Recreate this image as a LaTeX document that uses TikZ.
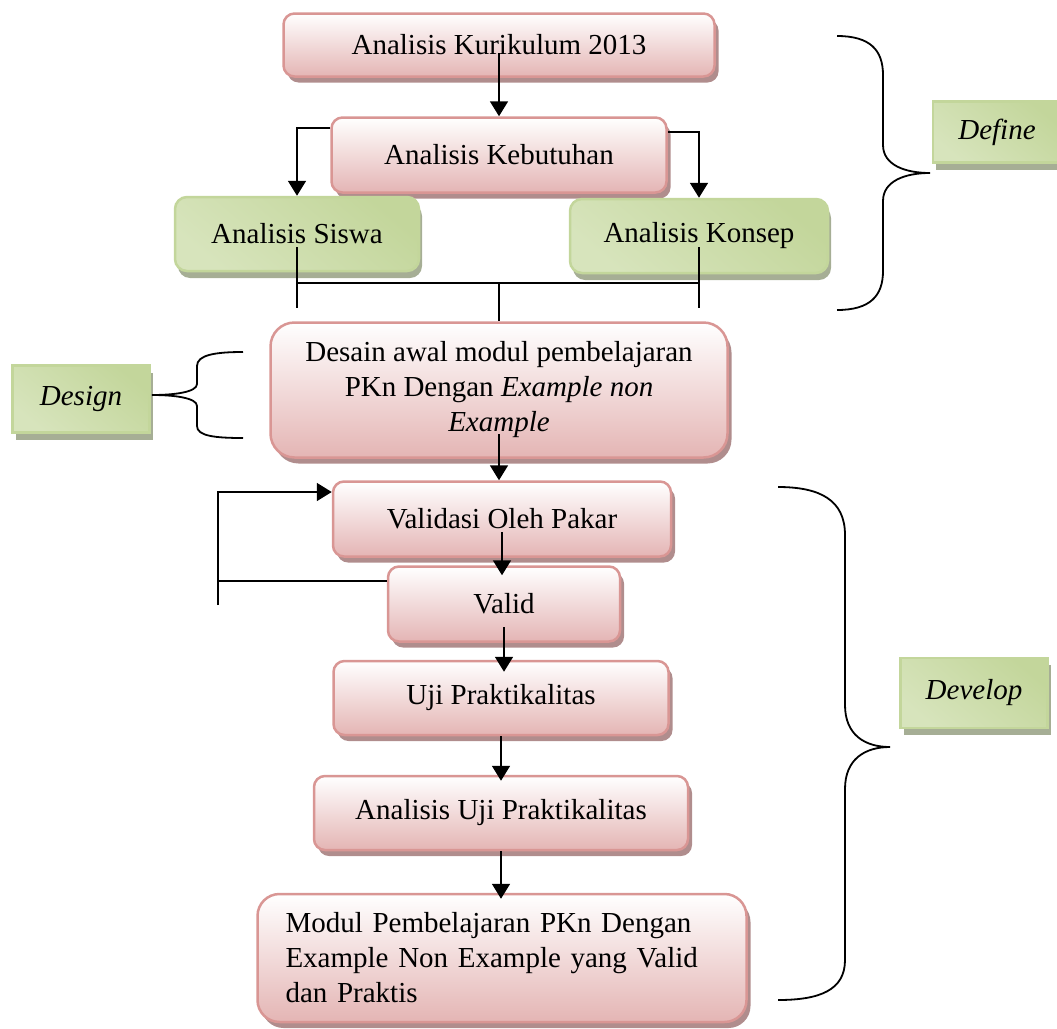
\documentclass[tikz,border=0pt]{standalone}
\usepackage{fontspec}
\setmainfont{Liberation Serif}
\usetikzlibrary{arrows.meta,shadows,calc}
\definecolor{pinkline}{HTML}{D99694}
\definecolor{pinkfill}{HTML}{E4B5B4}
\definecolor{pinkshade}{HTML}{B08D8D}
\definecolor{greenline}{HTML}{C3D69B}
\definecolor{greendark}{HTML}{C3D69B}
\definecolor{greenmid}{HTML}{D7E4BC}
\definecolor{greenlight}{HTML}{EEF3E2}
\definecolor{greenshade}{HTML}{A6AE95}
\newcommand{\flowfont}{\fontsize{29}{35}\selectfont}
\begin{document}
\begin{tikzpicture}[x=1pt,y=-1pt,
		pinkbox/.style={draw=pinkline, line width=2.5pt, rounded corners=11pt, top color=white, bottom color=pinkfill,
			drop shadow={shadow xshift=4pt, shadow yshift=-6pt, fill=pinkshade, opacity=1},
			font=\flowfont, align=center, inner sep=0pt},
		greenbox/.style={draw=greenline, line width=2.5pt, top color=greendark, middle color=greenlight, bottom color=greenmid,
			shading angle=-40, drop shadow={shadow xshift=3pt, shadow yshift=-7pt, fill=greenshade, opacity=1},
			font=\flowfont, align=center, inner sep=0pt},
		conn/.style={line width=1.8pt},
		arr/.style={conn, -{Triangle[width=18pt,length=15pt]}},
		brace/.style={line width=1.8pt}]
		\useasboundingbox (0,0) rectangle (1057,1028);
		\node[pinkbox, minimum width=431pt, minimum height=63pt] (kur) at (499,45) {Analisis Kurikulum 2013};
		\node[pinkbox, minimum width=335pt, minimum height=75pt] (keb) at (499,155) {Analisis Kebutuhan};
		\node[greenbox, rounded corners=12pt, minimum width=244pt, minimum height=74pt] (siswa) at (297,234) {Analisis Siswa};
		\node[greenbox, rounded corners=12pt, minimum width=258pt, minimum height=74pt] (konsep) at (699,236) {Analisis Konsep};
		\node[pinkbox, rounded corners=24pt, minimum width=457pt, minimum height=135pt] (desain) at (499,390)
			{Desain awal modul pembelajaran\\ PKn Dengan \textit{Example non}\\ \textit{Example}};
		\node[pinkbox, minimum width=338pt, minimum height=75pt] (valpak) at (502,519) {Validasi Oleh Pakar};
		\node[pinkbox, minimum width=232pt, minimum height=75pt] (valid) at (504,604) {Valid};
		\node[pinkbox, minimum width=335pt, minimum height=74pt] (uji) at (501,698) {Uji Praktikalitas};
		\node[pinkbox, minimum width=374pt, minimum height=74pt] (anuji) at (501,813) {Analisis Uji Praktikalitas};
		\node[pinkbox, rounded corners=22pt, minimum width=489pt, minimum height=128pt, text width=433pt, inner xsep=28pt, align=left] (modul) at (502,958)
			{Modul Pembelajaran PKn Dengan\\ Example Non Example yang Valid\\ dan Praktis};
		\node[greenbox, minimum width=137pt, minimum height=67pt] (designlbl) at (81,399) {\textit{Design}};
		\node[greenbox, minimum width=128pt, minimum height=61pt] (definelbl) at (997,132) {\textit{Define}};
		\node[greenbox, minimum width=147pt, minimum height=70pt] (developlbl) at (974,693) {\textit{Develop}};
		\coordinate (join) at (499,283);
		\coordinate (joinlow) at (499,308);
		\coordinate (fb) at (218,605);
		\coordinate (vw) at ([yshift=23pt]valid.west);
		\draw[arr] ([yshift=-8pt]kur.center) -- (keb.north);
		\draw[arr] ([yshift=-12pt]keb.north west) -| (siswa.north);
		\draw[arr] ([yshift=-16pt]keb.north east) -| (konsep.north);
		\draw[conn] ([yshift=-13pt]siswa.center) -- (siswa |- joinlow);
		\draw[conn] ([yshift=-11pt]konsep.center) -- (konsep |- joinlow);
		\draw[conn] (siswa |- join) -- (konsep |- join);
		\draw[conn] (join) -- (desain.north);
		\draw[arr] ([yshift=-44pt]desain.center) -- (desain.center |- valpak.north);
		\draw[arr] ([yshift=-13pt]valpak.center) -- ($(valpak.center |- valid.north)+(0,10)$);
		\draw[conn] (vw) -- (vw -| fb);
		\draw[arr] (fb) |- ([yshift=27pt]valpak.west);
		\draw[arr] ([yshift=-23pt]valid.center) -- ($(valid.center |- uji.north)+(0,12)$);
		\draw[arr] (uji.south) -- ($(uji.south |- anuji.north)+(0,6)$);
		\draw[arr] (anuji.south) -- ($(anuji.south |- modul.north)+(0,6)$);
		\draw[brace] (837,36) .. controls (870,36) and (883,50) .. (883,75) -- (883,145)
			.. controls (883,165) and (905,173) .. (930,173) .. controls (905,173) and (883,181) .. (883,201)
			-- (883,271) .. controls (883,296) and (870,310) .. (837,310);
		\draw[brace] (778,487) .. controls (820,487) and (845,500) .. (845,535) -- (845,705)
			.. controls (845,735) and (865,747) .. (890,747) .. controls (865,747) and (845,759) .. (845,789)
			-- (845,960) .. controls (845,990) and (820,1000) .. (778,1000);
		\draw[brace] (243,352) .. controls (215,352) and (197,355) .. (197,366) -- (197,384)
			.. controls (197,392) and (175,395) .. (152,395) .. controls (175,395) and (197,398) .. (197,406)
			-- (197,426) .. controls (197,436) and (215,438) .. (243,438);
	\end{tikzpicture}
\end{document}
